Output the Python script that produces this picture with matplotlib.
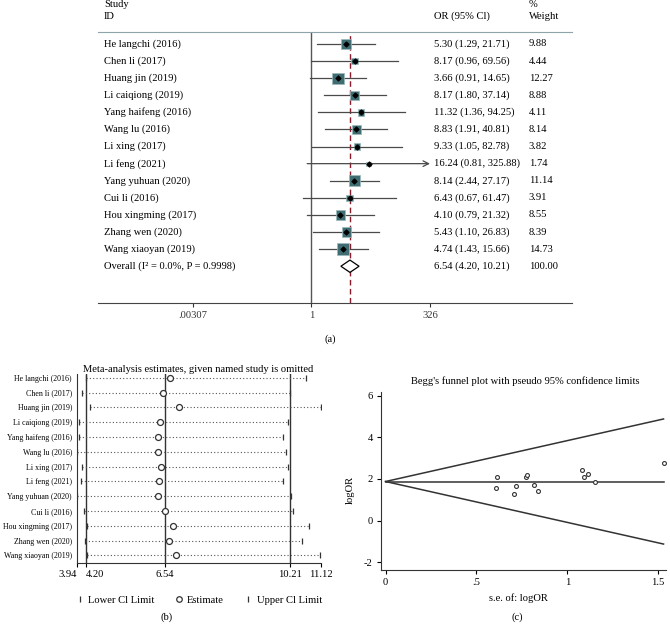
import numpy as np
import matplotlib
matplotlib.use("Agg")
import matplotlib.pyplot as plt
from matplotlib.lines import Line2D
from matplotlib.transforms import blended_transform_factory

plt.rcParams["font.family"] = ["Liberation Serif", "DejaVu Serif"]

# forest plot data (panel a)
studies = [
    "He langchi (2016)", "Chen li (2017)", "Huang jin (2019)", "Li caiqiong (2019)",
    "Yang haifeng (2016)", "Wang lu (2016)", "Li xing (2017)", "Li feng (2021)",
    "Yang yuhuan (2020)", "Cui li (2016)", "Hou xingming (2017)", "Zhang wen (2020)",
    "Wang xiaoyan (2019)",
]
or_est = [5.30, 8.17, 3.66, 8.17, 11.32, 8.83, 9.33, 16.24, 8.14, 6.43, 4.10, 5.43, 4.74]
or_low = [1.29, 0.96, 0.91, 1.80, 1.36, 1.91, 1.05, 0.81, 2.44, 0.67, 0.79, 1.10, 1.43]
or_high = [21.71, 69.56, 14.65, 37.14, 94.25, 40.81, 82.78, 325.88, 27.17, 61.47, 21.32, 26.83, 15.66]
weights = [9.88, 4.44, 12.27, 8.88, 4.11, 8.14, 3.82, 1.74, 11.14, 3.91, 8.55, 8.39, 14.73]
overall = [6.54, 4.20, 10.21]
overall_label = "Overall (I\u00b2 = 0.0%, P = 0.9998)"
x_ticks_a = [0.00307, 1, 326]
x_ticklabels_a = [".00307", "1", "326"]

# leave-one-out sensitivity (panel b)
loo_est = [6.68, 6.47, 6.95, 6.39, 6.34, 6.34, 6.43, 6.37, 6.34, 6.54, 6.76, 6.65, 6.85]
loo_low = [4.20, 4.10, 4.33, 4.00, 4.01, 3.96, 4.09, 4.06, 3.95, 4.15, 4.25, 4.17, 4.23]
loo_high = [10.68, 10.21, 11.12, 10.17, 10.00, 10.11, 10.15, 10.01, 10.24, 10.31, 10.77, 10.56, 11.10]
x_ticks_b = [3.94, 4.20, 6.54, 10.21, 11.12]

W, H = 670, 625
fig = plt.figure(figsize=(W / 100, H / 100), dpi=100)

box_col = "#3f6d72"
line_col = "#4a4a4a"
fs = 7.6

# ---------------- (a) forest plot ----------------
ax = fig.add_axes([98 / W, 1 - 303 / H, 474 / W, 271 / H])
ax.set_xscale("log")
ax.set_xlim(10 ** -4.528, 10 ** 5.525)
ax.set_ylim(15.15, -0.70)
rows = np.arange(len(studies))
est = np.array(or_est)
low = np.array(or_low)
high = np.array(or_high)
w = np.array(weights)

ax.axvline(1, color="#555555", lw=1.0, zorder=1)
ax.axvline(overall[0], color="#8b1a2b", lw=1.0, ls=(0, (4, 2.5)), zorder=1)

for i in rows:
    if high[i] >= 0.99 * x_ticks_a[-1]:
        ax.annotate("", xy=(high[i], i), xytext=(low[i], i),
                    arrowprops=dict(arrowstyle="->", color=line_col, lw=0.9,
                                    shrinkA=0, shrinkB=0))
    else:
        ax.plot([low[i], high[i]], [i, i], color=line_col, lw=0.9, zorder=2)

ax.scatter(est, rows, marker="s", s=(2.3 * np.sqrt(w)) ** 2, c=box_col,
           edgecolors="#9dbabc", linewidths=0.5, zorder=3)
ax.scatter(est, rows, marker="D", s=6, c="black", zorder=4)

r0 = len(studies)
ax.fill([overall[1], overall[0], overall[2], overall[0]],
        [r0, r0 - 0.36, r0, r0 + 0.36], facecolor="white", edgecolor="black",
        lw=0.9, zorder=3)

for s in ["left", "right"]:
    ax.spines[s].set_visible(False)
ax.spines["top"].set_color("#8ea4aa")
ax.spines["bottom"].set_color("#444444")
ax.set_yticks([])
ax.set_xticks(x_ticks_a)
ax.set_xticklabels(x_ticklabels_a, fontsize=fs)
ax.minorticks_off()
ax.tick_params(axis="x", direction="out", length=3, width=0.8, pad=3, colors="#333333")

tr = blended_transform_factory(ax.transAxes, ax.transData)
for i, name in enumerate(studies):
    ax.text(0.0127, i, name, transform=tr, va="center", ha="left", fontsize=fs)
    ax.text(0.708, i, f"{or_est[i]:.2f} ({or_low[i]:.2f}, {or_high[i]:.2f})",
            transform=tr, va="center", ha="left", fontsize=fs)
    ax.text(0.909, i, f"{weights[i]:.2f}", transform=tr, va="center", ha="left", fontsize=fs)
ax.text(0.0127, r0, overall_label, transform=tr, va="center", ha="left", fontsize=fs)
ax.text(0.708, r0, f"{overall[0]:.2f} ({overall[1]:.2f}, {overall[2]:.2f})",
        transform=tr, va="center", ha="left", fontsize=fs)
ax.text(0.909, r0, f"{sum(weights):.2f}", transform=tr, va="center", ha="left", fontsize=fs)
ax.text(0.0127, -2.32, "Study", transform=tr, va="center", ha="left", fontsize=fs)
ax.text(0.0127, -1.6, "ID", transform=tr, va="center", ha="left", fontsize=fs)
ax.text(0.708, -1.6, "OR (95% Cl)", transform=tr, va="center", ha="left", fontsize=fs)
ax.text(0.909, -2.32, "%", transform=tr, va="center", ha="left", fontsize=fs)
ax.text(0.909, -1.6, "Weight", transform=tr, va="center", ha="left", fontsize=fs)
fig.text(330 / W, 1 - 339 / H, "(a)", ha="center", va="center", fontsize=fs)

# ---------------- (b) sensitivity analysis ----------------
axb = fig.add_axes([76.7 / W, 1 - 562.7 / H, 244 / W, 188.7 / H])
axb.set_xlim(x_ticks_b[0], x_ticks_b[-1])
axb.set_ylim(12.5, -0.25)
for v in overall:
    axb.axvline(v, color="#333333", lw=1.0, zorder=1)
axb.hlines(rows, loo_low, loo_high, colors="#555555", linestyles=(0, (1, 2)), lw=0.8)
axb.plot(loo_low, rows, marker="|", ls="none", ms=4, mew=0.9, color="#333333")
axb.plot(loo_high, rows, marker="|", ls="none", ms=4, mew=0.9, color="#333333")
axb.plot(loo_est, rows, marker="o", ls="none", ms=4.3, mfc="white", mec="#333333", mew=0.9)
for s in ["top", "right"]:
    axb.spines[s].set_visible(False)
axb.spines["left"].set_color("#333333")
axb.spines["bottom"].set_color("#333333")
axb.set_yticks(rows)
axb.set_yticklabels(studies, fontsize=5.7)
axb.tick_params(axis="y", length=0, pad=3.4)
axb.set_xticks(x_ticks_b)
axb.set_xticklabels([f"{v:.2f}" for v in x_ticks_b], fontsize=fs)
axb.tick_params(axis="x", direction="out", length=3, width=0.8, pad=2)
tl = axb.get_xticklabels()
tl[0].set_ha("right")
tl[1].set_ha("left")
fig.text(198 / W, 1 - 369 / H, "Meta-analysis estimates, given named study is omitted",
         ha="center", va="center", fontsize=fs)
handles = [
    Line2D([], [], marker="|", ls="none", ms=4, mew=0.9, color="#333333"),
    Line2D([], [], marker="o", ls="none", ms=4.0, mfc="white", mec="#333333", mew=0.9),
    Line2D([], [], marker="|", ls="none", ms=4, mew=0.9, color="#333333"),
]
axb.legend(handles, ["Lower Cl Limit", "Estimate", "Upper Cl Limit"], loc="center",
           bbox_to_anchor=(0.5, -0.198), ncol=3, frameon=False, fontsize=fs,
           handlelength=0.8, handletextpad=0.4, columnspacing=1.9)
fig.text(167 / W, 1 - 617.5 / H, "(b)", ha="center", va="center", fontsize=fs)

# ---------------- (c) Begg's funnel plot ----------------
log_or = np.log(est)
se = (np.log(high) - np.log(low)) / (2 * 1.96)
pooled = np.log(overall[0])
s_line = np.array([0, se.max()])

axc = fig.add_axes([381 / W, 1 - 570 / H, 285 / W, 178 / H])
axc.set_xlim(-0.025, 1.5435)
axc.set_ylim(-2.365, 6.17)
axc.plot(s_line, pooled + 1.96 * s_line, color="#333333", lw=1.1)
axc.plot(s_line, pooled - 1.96 * s_line, color="#333333", lw=1.1)
axc.plot(s_line, [pooled, pooled], color="#333333", lw=1.1)
axc.plot(se, log_or, marker="o", ls="none", ms=2.8, mfc="white", mec="#333333", mew=0.8)
for s in ["top", "right"]:
    axc.spines[s].set_visible(False)
axc.spines["left"].set_color("#333333")
axc.spines["bottom"].set_color("#333333")
axc.set_xticks([0, 0.5, 1, 1.5])
axc.set_xticklabels(["0", ".5", "1", "1.5"], fontsize=fs)
axc.set_yticks([-2, 0, 2, 4, 6])
axc.set_yticklabels(["-2", "0", "2", "4", "6"], fontsize=fs)
axc.tick_params(direction="out", length=3, width=0.8, pad=3)
fig.text(525 / W, 1 - 381 / H, "Begg's funnel plot with pseudo 95% confidence limits",
         ha="center", va="center", fontsize=fs)
fig.text(350 / W, 1 - 490 / H, "logOR", rotation=90, ha="center", va="center", fontsize=fs)
fig.text(518 / W, 1 - 598.5 / H, "s.e. of: logOR", ha="center", va="center", fontsize=fs)
fig.text(517 / W, 1 - 617.5 / H, "(c)", ha="center", va="center", fontsize=fs)

fig.savefig("out.png", dpi=100, facecolor="white")
